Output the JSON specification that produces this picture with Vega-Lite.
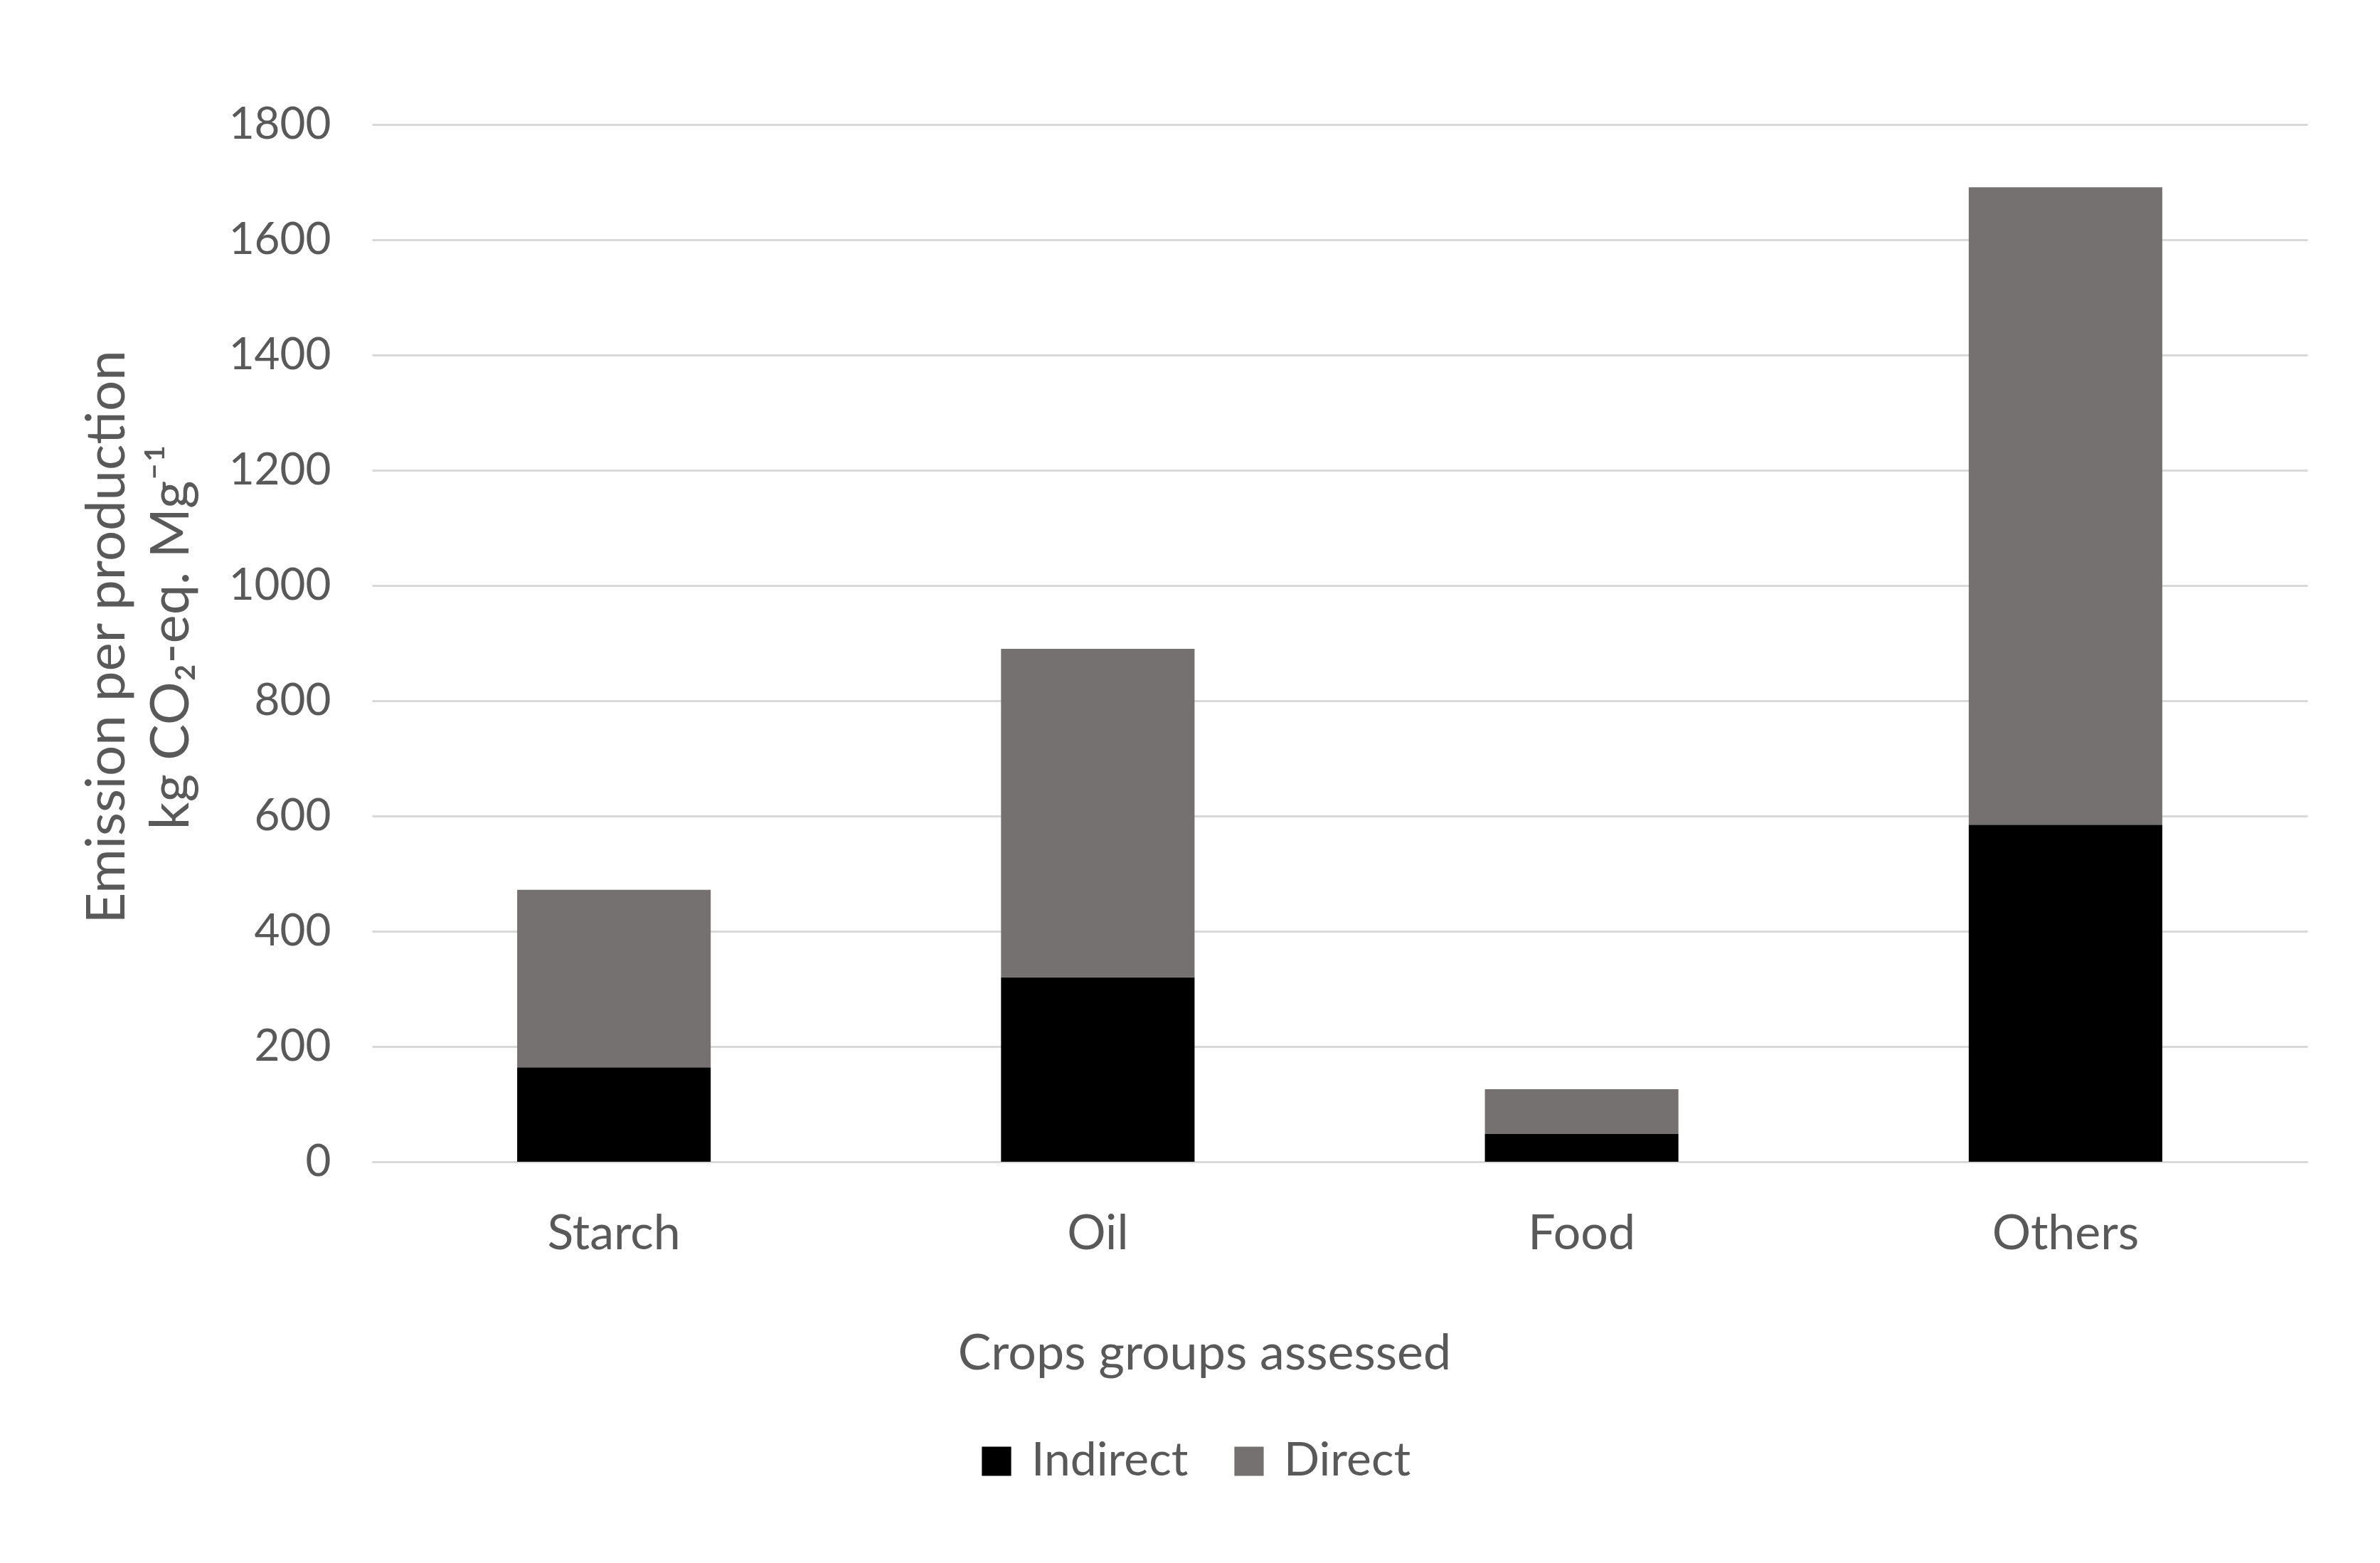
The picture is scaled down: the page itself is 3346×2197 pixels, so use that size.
{
  "$schema": "https://vega.github.io/schema/vega-lite/v6.json",
  "autosize": {"type": "none"},
  "width": 2721,
  "height": 1458,
  "padding": {"left": 523, "top": 175, "right": 102, "bottom": 564},
  "background": "white",
  "data": {
    "values": [
      {"group": "Starch", "type": "Indirect", "value": 164},
      {"group": "Starch", "type": "Direct", "value": 308},
      {"group": "Oil", "type": "Indirect", "value": 320},
      {"group": "Oil", "type": "Direct", "value": 570},
      {"group": "Food", "type": "Indirect", "value": 48},
      {"group": "Food", "type": "Direct", "value": 78},
      {"group": "Others", "type": "Indirect", "value": 585},
      {"group": "Others", "type": "Direct", "value": 1106}
    ]
  },
  "mark": {"type": "bar"},
  "encoding": {
    "x": {
      "field": "group",
      "type": "nominal",
      "sort": ["Starch", "Oil", "Food", "Others"],
      "scale": {"paddingInner": 0.6, "paddingOuter": 0.3},
      "axis": {
        "title": "Crops groups assessed",
        "labelAngle": 0,
        "labelLimit": 0,
        "labelFont": "Lato",
        "labelFontSize": 68,
        "labelColor": "#595959",
        "labelPadding": 68,
        "ticks": false,
        "domain": true,
        "domainColor": "#d9d9d9",
        "domainWidth": 3,
        "titleFont": "Lato",
        "titleFontSize": 70,
        "titleFontWeight": "normal",
        "titleColor": "#595959",
        "titleX": 1170,
        "titleY": 270,
        "titleAlign": "center",
        "titleBaseline": "middle"
      }
    },
    "y": {
      "field": "value",
      "type": "quantitative",
      "stack": "zero",
      "scale": {"domain": [0, 1800]},
      "axis": {
        "title": ["Emission per production", "kg CO₂-eq. Mg⁻¹"],
        "values": [0, 200, 400, 600, 800, 1000, 1200, 1400, 1600, 1800],
        "format": "d",
        "labelFont": "Lato",
        "labelFontSize": 62,
        "labelColor": "#595959",
        "labelPadding": 58,
        "ticks": false,
        "domain": false,
        "grid": true,
        "gridColor": "#d9d9d9",
        "gridWidth": 3,
        "titleFont": "Lato",
        "titleFontSize": 76,
        "titleFontWeight": "normal",
        "titleColor": "#595959",
        "titleLineHeight": 90,
        "titleX": -372,
        "titleY": 720,
        "titleAlign": "center",
        "titleBaseline": "middle",
        "titleAngle": -90
      }
    },
    "color": {
      "field": "type",
      "type": "nominal",
      "sort": ["Indirect", "Direct"],
      "scale": {"domain": ["Indirect", "Direct"], "range": ["#000000", "#767171"]},
      "legend": {
        "title": null,
        "orient": "none",
        "direction": "horizontal",
        "legendX": 845,
        "legendY": 1846,
        "padding": 0,
        "symbolType": "square",
        "symbolSize": 1700,
        "symbolStrokeWidth": 0,
        "labelFont": "Lato",
        "labelFontSize": 66,
        "labelLimit": 0,
        "labelColor": "#595959",
        "labelOffset": 16,
        "columnPadding": 52
      }
    },
    "order": {"field": "type", "sort": "descending"}
  },
  "config": {
    "view": {"stroke": null}
  }
}
